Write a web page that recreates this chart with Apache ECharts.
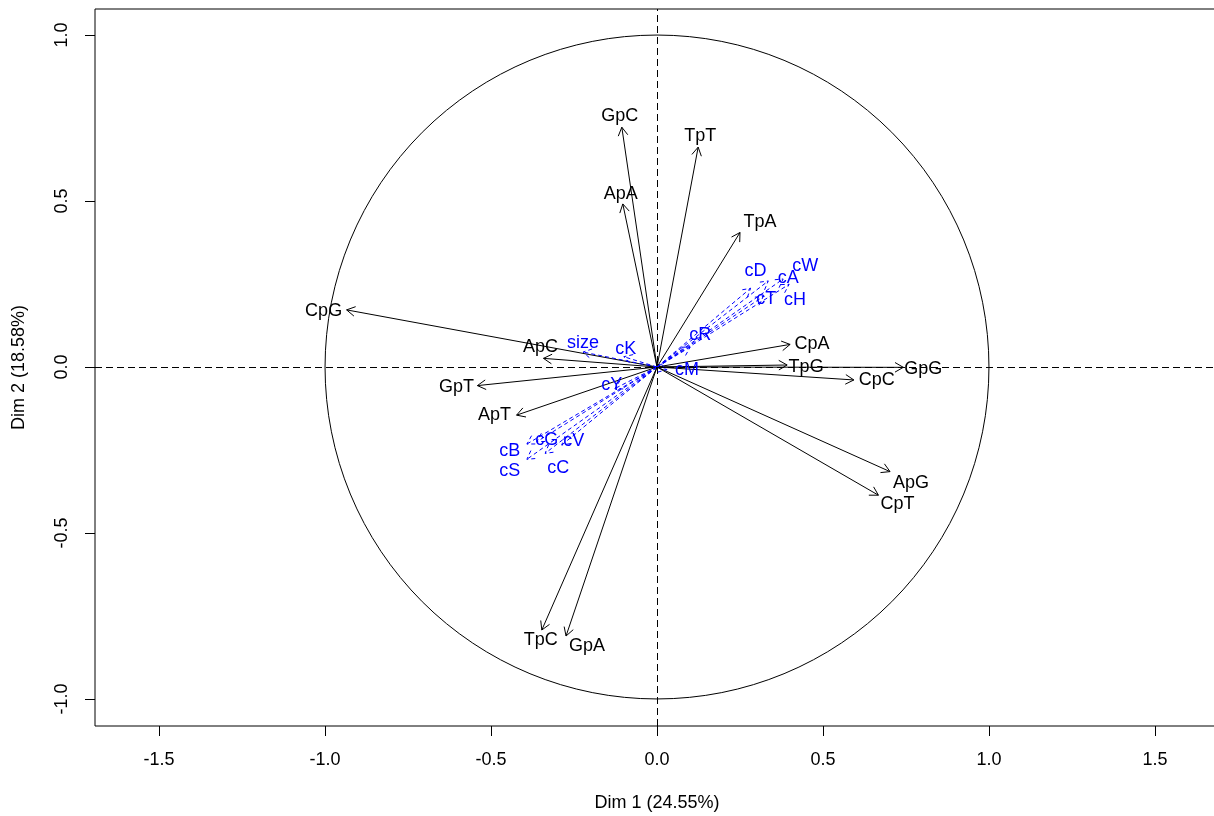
<!DOCTYPE html>
<html><head><meta charset="utf-8">
<script src="https://cdn.jsdelivr.net/npm/echarts@6/dist/echarts.min.js"></script>
<style>html,body{margin:0;padding:0;background:#fff}#c{width:1214px;height:816px}</style>
</head><body><div id="c"></div>
<script>
// ---- data ----
const activeNames = ['ApA','ApC','ApG','ApT','CpA','CpC','CpG','CpT','GpA','GpC','GpG','GpT','TpA','TpC','TpG','TpT'];
const activeX = [-0.103,-0.342, 0.702,-0.423, 0.401, 0.593,-0.935, 0.667,-0.274,-0.106, 0.742,-0.541, 0.250,-0.347, 0.392, 0.124];
const activeY = [ 0.491, 0.026,-0.315,-0.145, 0.068,-0.039, 0.172,-0.386,-0.810, 0.722,-0.001,-0.056, 0.405,-0.792, 0.006, 0.662];
const suppNames = ['size','cK','cY','cB','cS','cG','cC','cV','cR','cM','cD','cA','cW','cT','cH'];
const suppX = [-0.223,-0.100,-0.127,-0.392,-0.392,-0.362,-0.337,-0.287, 0.100, 0.030, 0.282, 0.335, 0.380, 0.320, 0.398];
const suppY = [ 0.045, 0.031,-0.065,-0.232,-0.278,-0.225,-0.260,-0.235, 0.060,-0.008, 0.237, 0.259, 0.265, 0.212, 0.249];
const xTicks = [-1.5,-1,-0.5,0,0.5,1,1.5];
const yTicks = [-1,-0.5,0,0.5,1];
const xTitle = 'Dim 1 (24.55%)';
const yTitle = 'Dim 2 (18.58%)';
const circleRadius = [1];

// ---- label placement (pixel offsets from arrow tip) ----
const labelOffset = {
  GpC:[-2,-11], TpT:[2,-11], ApA:[-2,-10], TpA:[20,-10], CpA:[22,0], TpG:[19,2], GpG:[20,2],
  CpC:[23,0], ApG:[21,11], CpT:[19,9], TpC:[-1,10], GpA:[21,10], CpG:[-23,1], ApC:[-3,-11],
  GpT:[-21,1], ApT:[-22,0],
  size:[0,-9], cK:[2,-8], cY:[-3,-4], cB:[-17,7], cS:[-17,12], cG:[10,-2], cC:[13,15],
  cV:[12,-4], cR:[10,-12], cM:[20,0], cD:[5,-17], cA:[20,-3], cW:[22,-13], cT:[3,2], cH:[6,16]
};
const FAMILY = '"Liberation Sans", Arial, sans-serif';
const FONT = '18px ' + FAMILY;

function arrowRenderer(names, color, dash) {
  return function (params, api) {
    const i = api.value(2);
    const p0 = api.coord([0, 0]);
    const p1 = api.coord([api.value(0), api.value(1)]);
    const ang = Math.atan2(p1[1] - p0[1], p1[0] - p0[0]);
    const L = 9.6, a = Math.PI / 6;
    const h1 = [p1[0] - L * Math.cos(ang - a), p1[1] - L * Math.sin(ang - a)];
    const h2 = [p1[0] - L * Math.cos(ang + a), p1[1] - L * Math.sin(ang + a)];
    const off = labelOffset[names[i]] || [0, 0];
    const ls = { stroke: color, lineWidth: 1, lineDash: dash, fill: null };
    return {
      type: 'group', children: [
        { type: 'line', shape: { x1: p0[0], y1: p0[1], x2: p1[0], y2: p1[1] }, style: ls },
        { type: 'polyline', shape: { points: [h1, p1, h2] }, style: ls },
        { type: 'text', style: { text: names[i], x: p1[0] + off[0], y: p1[1] + off[1], align: 'center', verticalAlign: 'middle', fill: color, font: FONT } }
      ]
    };
  };
}

const activeData = activeNames.map((n, i) => [activeX[i], activeY[i], i]);
const suppData = suppNames.map((n, i) => [suppX[i], suppY[i], i]);
const fmt = v => Number(v).toFixed(1);

const chart = echarts.init(document.getElementById('c'), null, { renderer: 'canvas' });
chart.setOption({
  animation: false,
  backgroundColor: '#fff',
  grid: { left: 95, top: 9, width: 1124, height: 717, outerBoundsMode: 'none', containLabel: false, show: true, borderColor: '#000', borderWidth: 1, backgroundColor: 'transparent' },
  xAxis: {
    type: 'value', min: -1.693, max: 1.693, position: 'bottom',
    name: xTitle, nameLocation: 'middle', nameGap: 68,
    nameTextStyle: { color: '#000', fontSize: 18, fontFamily: FAMILY },
    axisLine: { show: false, onZero: false },
    axisTick: { show: true, inside: false, length: 10, customValues: xTicks, lineStyle: { color: '#000', width: 1 } },
    axisLabel: { show: true, customValues: xTicks, formatter: fmt, margin: 25, color: '#000', fontSize: 18, fontFamily: FAMILY },
    splitLine: { show: false }
  },
  yAxis: {
    type: 'value', min: -1.081, max: 1.078, position: 'left',
    name: yTitle, nameLocation: 'middle', nameGap: 67,
    nameTextStyle: { color: '#000', fontSize: 18, fontFamily: FAMILY },
    axisLine: { show: false, onZero: false },
    axisTick: { show: true, inside: false, length: 10, customValues: yTicks, lineStyle: { color: '#000', width: 1 } },
    axisLabel: { show: true, customValues: yTicks, formatter: fmt, rotate: 90, margin: 24, color: '#000', fontSize: 18, fontFamily: FAMILY },
    splitLine: { show: false }
  },
  series: [
    {
      type: 'custom', name: 'circle', silent: true,
      data: circleRadius.map(r => [0, 0, r]),
      renderItem: function (params, api) {
        const c = api.coord([api.value(0), api.value(1)]);
        const r = api.size([api.value(2), 0])[0];
        return { type: 'circle', shape: { cx: c[0], cy: c[1], r: r }, style: { fill: null, stroke: '#000', lineWidth: 1 } };
      },
      markLine: {
        silent: true, symbol: ['none', 'none'], label: { show: false },
        lineStyle: { color: '#000', width: 1, type: [7, 4] },
        data: [{ xAxis: 0 }, { yAxis: 0 }]
      }
    },
    { type: 'custom', name: 'active', silent: true, data: activeData, renderItem: arrowRenderer(activeNames, '#000', null) },
    { type: 'custom', name: 'supplementary', silent: true, data: suppData, renderItem: arrowRenderer(suppNames, '#0000FF', [4, 3]) }
  ]
});
</script></body></html>
